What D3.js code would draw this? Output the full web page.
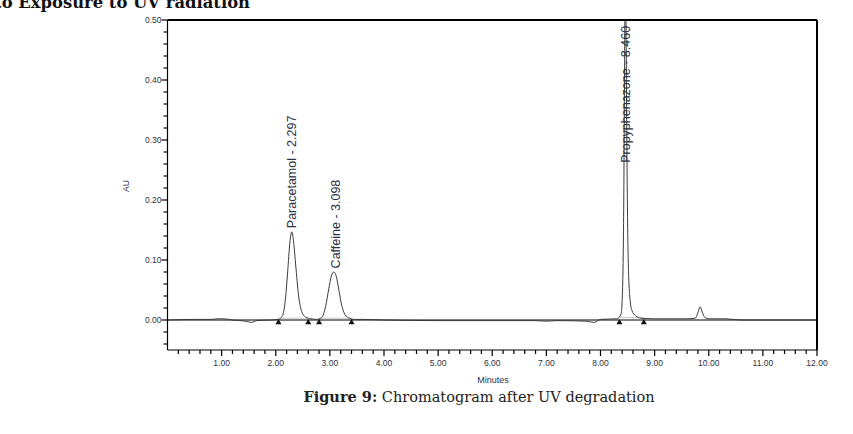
<!DOCTYPE html>
<html>
<head>
<meta charset="utf-8">
<script src="https://cdn.jsdelivr.net/npm/d3@7"></script>
<style>
  body { margin: 0; background: #fff; }
  svg { display: block; }
</style>
</head>
<body>
<div id="graph"></div>
<script>
const width = 853;
const height = 434;

// chromatogram trace (minutes, AU)
const times = [0.00, 0.50, 0.80, 0.95, 1.00, 1.05, 1.20, 1.45, 1.55, 1.65, 1.90,
  2.05, 2.12, 2.18, 2.22, 2.26, 2.297, 2.33, 2.37, 2.42, 2.48, 2.55, 2.65,
  2.75, 2.85, 2.92, 2.98, 3.03, 3.07, 3.098, 3.13, 3.17, 3.22, 3.28, 3.36, 3.45,
  3.60, 4.00, 5.00, 6.00, 6.80, 7.00, 7.20, 7.75, 7.88, 8.00, 8.30, 8.38, 8.41,
  8.43, 8.445, 8.46, 8.475, 8.49, 8.51, 8.54, 8.58, 8.65, 8.75, 9.00, 9.60,
  9.75, 9.80, 9.84, 9.88, 9.93, 10.00, 10.30, 10.60, 11.00, 12.00];
const au = [0.000, 0.001, 0.001, 0.002, 0.002, 0.002, 0.000, -0.002, -0.004, -0.001, 0.000,
  0.001, 0.006, 0.036, 0.080, 0.128, 0.147, 0.130, 0.090, 0.042, 0.014, 0.005, 0.002,
  0.001, 0.004, 0.022, 0.052, 0.074, 0.080, 0.078, 0.068, 0.048, 0.024, 0.009, 0.003, 0.001,
  0.001, 0.000, -0.001, -0.001, -0.001, -0.002, -0.001, -0.002, -0.004, 0.001, 0.002, 0.010, 0.060,
  0.200, 0.420, 0.620, 0.450, 0.260, 0.110, 0.040, 0.016, 0.007, 0.003, 0.002, 0.002,
  0.003, 0.012, 0.022, 0.013, 0.004, 0.002, 0.002, 0.000, 0.000, 0.000];

// named peaks
const peakNames = ["Paracetamol", "Caffeine", "Propyphenazone"];
const peakTimes = [2.297, 3.098, 8.460];
const labelAU = [0.153, 0.086, 0.262];

// integration baseline marks (start, end)
const peakStart = [2.05, 2.80, 8.35];
const peakEnd = [2.60, 3.40, 8.80];
const baseAU = [0.003, 0.003, 0.004];

const xTicks = d3.range(1, 13);
const yTicks = [0, 0.1, 0.2, 0.3, 0.4, 0.5];

const svg = d3.select("#graph")
  .append("svg")
  .attr("width", width)
  .attr("height", height);

const x = d3.scaleLinear().domain([0, 12]).range([167.5, 817]);
const y = d3.scaleLinear().domain([-0.05, 0.5]).range([350, 20]);

const axisFont = "'Liberation Sans', Arial, sans-serif";
const textColor = "#2b3142";

// title fragment cut at the top of the page
svg.append("text")
  .attr("x", 250)
  .attr("y", 8)
  .attr("text-anchor", "end")
  .attr("font-family", "'DejaVu Serif', serif")
  .attr("font-weight", "bold")
  .attr("font-size", 16.4)
  .attr("fill", "#111")
  .text("to Exposure to UV radiation");

svg.append("clipPath").attr("id", "plot")
  .append("rect")
  .attr("x", x(0)).attr("y", y(0.5))
  .attr("width", x(12) - x(0)).attr("height", y(-0.05) - y(0.5));

const plot = svg.append("g").attr("clip-path", "url(#plot)");

// zero line
plot.append("line")
  .attr("x1", x(0)).attr("x2", x(12))
  .attr("y1", y(0)).attr("y2", y(0))
  .attr("stroke", "#000").attr("stroke-width", 1);

// integration baselines
plot.selectAll(".base")
  .data(peakStart)
  .join("line")
  .attr("x1", d => x(d))
  .attr("x2", (d, i) => x(peakEnd[i]))
  .attr("y1", (d, i) => y(baseAU[i]))
  .attr("y2", (d, i) => y(baseAU[i]))
  .attr("stroke", "#c8c8c8").attr("stroke-width", 1);

const trace = times.map((t, i) => ({t: t, v: au[i]}));

const line = d3.line()
  .x(d => x(d.t))
  .y(d => y(d.v))
  .curve(d3.curveMonotoneX);

plot.append("path")
  .datum(trace)
  .attr("fill", "none")
  .attr("stroke", "#3a3a3a")
  .attr("stroke-width", 1)
  .attr("d", line);

// peak labels
plot.selectAll(".lbl")
  .data(peakNames)
  .join("text")
  .attr("transform", (d, i) => `translate(${x(peakTimes[i]) + 4.5},${y(labelAU[i])}) rotate(-90)`)
  .attr("font-family", axisFont)
  .attr("font-size", 12.5)
  .attr("fill", textColor)
  .text((d, i) => `${d} - ${peakTimes[i].toFixed(3)}`);

// baseline markers
const tri = d3.symbol().type(d3.symbolTriangle).size(16);
const marks = peakStart.concat(peakEnd);
svg.selectAll(".mark")
  .data(marks)
  .join("path")
  .attr("d", tri)
  .attr("transform", d => `translate(${x(d)},${y(0) + 2.5})`)
  .attr("fill", "#111");

// frame
svg.append("line")
  .attr("x1", x(0)).attr("x2", x(12))
  .attr("y1", y(0.5)).attr("y2", y(0.5))
  .attr("stroke", "#000").attr("stroke-width", 2);
svg.append("line")
  .attr("x1", x(12)).attr("x2", x(12))
  .attr("y1", y(0.5)).attr("y2", y(-0.05))
  .attr("stroke", "#000").attr("stroke-width", 2);

// x axis
const xAxis = svg.append("g").attr("transform", `translate(0,${y(-0.05)})`);
xAxis.append("line")
  .attr("x1", x(0)).attr("x2", x(12))
  .attr("stroke", "#000").attr("stroke-width", 1.2);
xAxis.selectAll(".minor")
  .data(d3.range(1, 61).map(d => d * 0.2))
  .join("line")
  .attr("x1", d => x(d)).attr("x2", d => x(d))
  .attr("y1", 0)
  .attr("y2", d => Math.abs(d - Math.round(d)) < 1e-6 ? 6 : 4)
  .attr("stroke", "#000").attr("stroke-width", 1.2);
xAxis.selectAll(".xl")
  .data(xTicks)
  .join("text")
  .attr("x", d => x(d))
  .attr("y", 16)
  .attr("text-anchor", "middle")
  .attr("font-family", axisFont)
  .attr("font-size", 8.5)
  .attr("fill", textColor)
  .text(d => d.toFixed(2));

svg.append("text")
  .attr("x", 493).attr("y", 383)
  .attr("text-anchor", "middle")
  .attr("font-family", axisFont)
  .attr("font-size", 9)
  .attr("fill", textColor)
  .text("Minutes");

// y axis
const yAxis = svg.append("g").attr("transform", `translate(${x(0)},0)`);
yAxis.append("line")
  .attr("y1", y(0.5)).attr("y2", y(-0.05))
  .attr("stroke", "#000").attr("stroke-width", 1.2);
yAxis.selectAll(".ytk")
  .data(d3.range(-2, 26).map(d => d * 0.02))
  .join("line")
  .attr("y1", d => y(d)).attr("y2", d => y(d))
  .attr("x1", 0)
  .attr("x2", d => Math.abs(d * 10 - Math.round(d * 10)) < 1e-6 ? -6 : -4)
  .attr("stroke", "#000").attr("stroke-width", 1.2);
yAxis.selectAll(".yl")
  .data(yTicks)
  .join("text")
  .attr("x", -6)
  .attr("y", d => y(d) + 3)
  .attr("text-anchor", "end")
  .attr("font-family", axisFont)
  .attr("font-size", 8.5)
  .attr("fill", textColor)
  .text(d => d.toFixed(2));

svg.append("text")
  .attr("transform", "translate(129,186) rotate(-90)")
  .attr("text-anchor", "middle")
  .attr("font-family", axisFont)
  .attr("font-size", 8.5)
  .attr("fill", textColor)
  .text("AU");

// caption
const cap = svg.append("text")
  .attr("x", 479).attr("y", 402)
  .attr("text-anchor", "middle")
  .attr("font-family", "'DejaVu Serif', serif")
  .attr("font-size", 14.5)
  .attr("fill", "#222");
cap.append("tspan").attr("font-weight", "bold").text("Figure 9:");
cap.append("tspan").text(" Chromatogram after UV degradation");
</script>
</body>
</html>
